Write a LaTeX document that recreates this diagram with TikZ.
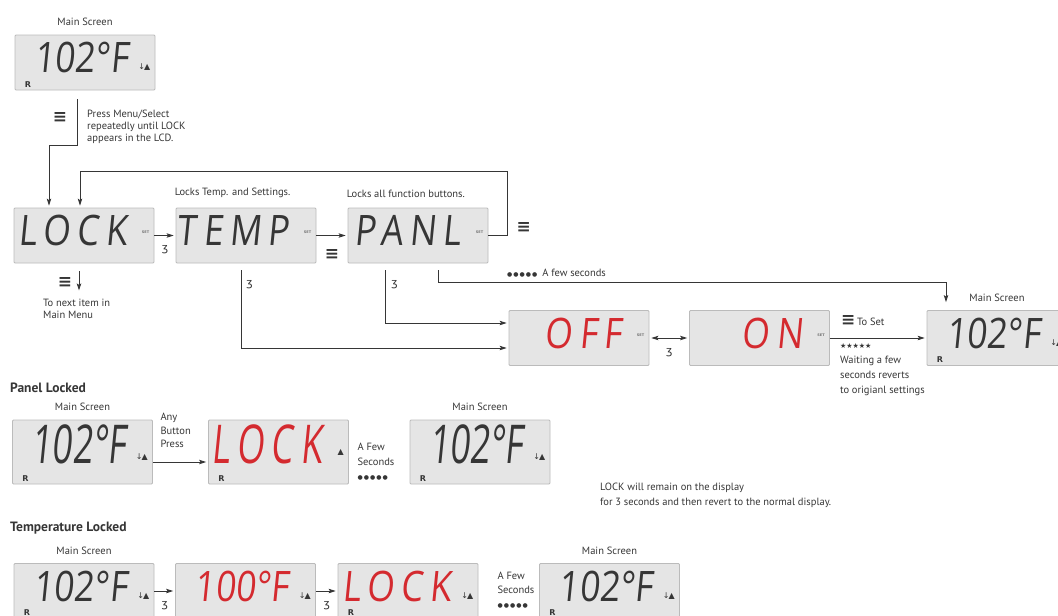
\documentclass[tikz,border=0pt]{standalone}
\usepackage{fontspec}
\setmainfont{PT Sans}
\newfontfamily\symfont{DejaVu Sans}
\newfontfamily\lcdfamily{Open Sans}[FakeSlant=0.1,FakeStretch=0.84]
\newfontfamily\lcdtallfamily{Open Sans}[FakeSlant=0.1,FakeStretch=0.66]
\newcommand\lcdnum{\lcdfamily\fontsize{42}{42}\selectfont}
\newcommand\lcdword{\lcdnum\addfontfeature{LetterSpace=16}}
\newcommand\lcdtallnum{\lcdtallfamily\fontsize{53.5}{54}\selectfont}
\newcommand\lcdtallword{\lcdtallnum\addfontfeature{LetterSpace=13}}
\usepackage{tikz}
\usetikzlibrary{arrows.meta,positioning}
\definecolor{ink}{HTML}{363636}
\definecolor{lcdfill}{HTML}{E5E5E5}
\definecolor{lcdedge}{HTML}{BBBBBB}
\definecolor{lcdred}{HTML}{D42A2F}

\begin{document}
\begin{tikzpicture}[x=1pt,y=-1pt,>={Stealth[length=7pt,width=4.5pt,inset=1.5pt]},shorten >=2pt,
  every node/.style={text=ink},
  wire/.style={draw=ink,line width=0.9pt},
  lcd/.style={draw=lcdedge,fill=lcdfill,line width=0.8pt,rounded corners=1pt,
    minimum width=140pt,minimum height=55pt,inner sep=0pt},
  tall/.style={minimum height=64pt},
  lcdtxt/.style={anchor=base east,inner sep=0pt,xshift=-27pt,yshift=-10pt,font=\lcdnum},
  num/.style={label={[lcdtxt]east:#1}},
  word/.style={label={[lcdtxt,font=\lcdword]east:#1}},
  rednum/.style={label={[lcdtxt,text=lcdred]east:#1}},
  redword/.style={label={[lcdtxt,font=\lcdword,text=lcdred]east:#1}},
  tallnum/.style={label={[lcdtxt,yshift=-1pt,font=\lcdtallnum]east:#1}},
  tallredword/.style={label={[lcdtxt,yshift=-1pt,font=\lcdtallword,text=lcdred]east:#1}},
  rtag/.style={anchor=south west,inner sep=0pt,xshift=10pt,yshift=3pt,
    font=\symfont\bfseries\fontsize{8}{8}\selectfont},
  rmark/.style={label={[rtag]south west:R}},
  icon/.style={anchor=east,inner sep=0pt,xshift=-5pt,yshift=-5pt,
    font=\symfont\fontsize{8}{8}\selectfont},
  updown/.style={label={[icon]east:↓\kern-1pt▲}},
  upmark/.style={label={[icon,yshift=5pt]east:▲}},
  settag/.style={anchor=east,inner sep=0pt,xshift=-5pt,yshift=3pt,text=ink!70,
    font=\symfont\bfseries\fontsize{3.5}{3.5}\selectfont},
  setmark/.style={label={[settag]east:SET}},
  screenlbl/.style={yshift=5pt,font=\fontsize{10.5}{12}\selectfont},
  screen/.style={label={[screenlbl]above:Main Screen}},
  note/.style={font=\fontsize{10.5}{12}\selectfont,align=left,inner sep=0pt},
  head/.style={font=\bfseries\fontsize{13.5}{15}\selectfont,inner sep=0pt},
  menu/.style={font=\symfont\bfseries\fontsize{17}{17}\selectfont,inner sep=0pt},
  knob/.style={font=\symfont\fontsize{11}{11}\selectfont,inner sep=0pt}]
  \useasboundingbox (0,0) rectangle (1058,616);
  \clip (0,0) rectangle (1058,616);

  % displays, top part
  \node[lcd,num=102°F,rmark,updown,screen] (main) at (85,62.5) {};
  \node[lcd,word=LOCK,setmark]  (lock) at (84,235.5) {};
  \node[lcd,word=TEMP,setmark]  (temp) at (246,235.5) {};
  \node[lcd,word=PANL,setmark]  (panl) at (418,235.5) {};
  \node[lcd,redword=OFF,setmark] (off) at (579,338) {};
  \node[lcd,redword=ON,setmark]  (on)  at (759.5,338) {};
  \node[lcd,num=102°F,rmark,updown,screen] (done) at (997,338) {};

  % menu into LOCK
  \node[menu] (m1) at ([xshift=-25pt,yshift=-27pt]main.south) {≡};
  \node[note,anchor=north west] (press) at ([xshift=2pt,yshift=-19pt]main.south)
    {Press Menu/Select\\repeatedly until LOCK\\appears in the LCD.};
  \draw[wire,->] ([xshift=-8pt,yshift=-9pt]main.south) -- ++(0,46) -| ([xshift=-35pt]lock.north);
  \draw[wire,->] (panl.east) -- ++(19,0) -- ++(0,-64) -| ([xshift=-4pt]lock.north);
  \node[menu,right=28pt of panl.east,yshift=8pt] (m3) {≡};

  \node[note,above right=10pt and -1pt of temp.north west] (templbl) {Locks Temp. and Settings.};
  \node[note,above right=10pt and -1pt of panl.north west] (panllbl) {Locks all function buttons.};

  \draw[wire,->] (lock) -- (temp) node[knob,midway,below=10pt] (k1) {ʒ};
  \draw[wire,->] (temp) -- (panl) node[menu,midway,below=14pt] (m2) {≡};

  % next item
  \node[menu] (m4) at ([xshift=-19pt,yshift=-19pt]lock.south) {≡};
  \draw[wire,->] ([xshift=-5pt,yshift=-8pt]lock.south) -- ([xshift=-5pt,yshift=-29pt]lock.south);
  \node[note,anchor=north west] (nextitem) at ([xshift=-41pt,yshift=-35pt]lock.south)
    {To next item in\\Main Menu};

  % into OFF / ON
  \draw[wire,->] ([xshift=-5pt,yshift=-7pt]temp.south) |- ([yshift=-10pt]off.west)
    node[knob,pos=0.09,right=5pt] (k2) {ʒ};
  \draw[wire,->] ([xshift=-33pt,yshift=-7pt]panl.south) |- ([yshift=15pt]off.west)
    node[knob,pos=0.14,right=6pt] (k3) {ʒ};
  \draw[wire,->,shorten >=8pt] ([xshift=20pt,yshift=-7pt]panl.south) -- ++(0,12) -| ([xshift=-51pt]done.north);
  \node[note,anchor=west] (few) at ([xshift=89pt,yshift=-10pt]panl.south)
    {{\symfont\fontsize{6}{6}\selectfont ●\,●\,●\,●\,●}\hspace{5pt}A few seconds};

  \draw[wire,<->,shorten <=2pt] (off) -- (on) node[knob,midway,below=10pt] (k4) {ʒ};
  \draw[wire,->] (on) -- (done);
  \node[note,anchor=south west] (toset) at ([xshift=11pt,yshift=12.5pt]on.east)
    {{\symfont\bfseries\fontsize{17}{17}\selectfont ≡}\,To Set};
  \node[note,below right=5pt and 10pt of on.east,font=\fontsize{10.5}{15}\selectfont] (wait)
    {{\symfont\fontsize{7}{15}\selectfont ★★★★★}\\Waiting a few\\seconds reverts\\to origianl settings};

  % panel locked
  \node[head,anchor=west] (panelhead) at (10,388) {Panel Locked};
  \node[lcd,tall,tallnum=102°F,rmark,updown,screen] (pmain) at (82.5,452) {};
  \node[lcd,tall,tallredword=LOCK,rmark,upmark] (plock) at (278.5,452) {};
  \node[lcd,tall,tallnum=102°F,rmark,updown,screen] (pback) at (480,452) {};
  \draw[wire,->] ([yshift=-10pt]pmain.east) -- ([yshift=-10pt]plock.west);
  \node[note,anchor=north west,font=\fontsize{10.5}{13.5}\selectfont] (anykey)
    at ([xshift=7.5pt,yshift=39pt]pmain.east) {Any\\Button\\Press};
  \node[note,anchor=north west,font=\fontsize{10.5}{14.5}\selectfont] (pfew)
    at ([xshift=8.5pt,yshift=9pt]plock.east)
    {A Few\\Seconds\\{\symfont\fontsize{6}{6}\selectfont ●\,●\,●\,●\,●}};
  \node[note,anchor=north west,font=\fontsize{10.5}{15}\selectfont] (remain) at (600,483)
    {LOCK will remain on the display\\for 3 seconds and then revert to the normal display.};

  % temperature locked
  \node[head,anchor=west] (temphead) at (10,528) {Temperature Locked};
  \node[lcd,num=102°F,rmark,updown,screen] (tmain) at (84,591) {};
  \node[lcd,rednum=100°F,updown] (tset) at (245.5,591) {};
  \node[lcd,redword=LOCK,rmark,updown] (tlock) at (408,591) {};
  \node[lcd,num=102°F,rmark,updown,screen] (tback) at (609.5,591) {};
  \draw[wire,->] (tmain) -- (tset) node[knob,midway,below=10pt] (k5) {ʒ};
  \draw[wire,->] (tset) -- (tlock) node[knob,midway,below=10pt] (k6) {ʒ};
  \node[note,anchor=north west,font=\fontsize{10.5}{14}\selectfont] (tfew)
    at ([xshift=19pt,yshift=-9pt]tlock.north east)
    {A Few\\Seconds\\{\symfont\fontsize{6}{6}\selectfont ●\,●\,●\,●\,●}};
\end{tikzpicture}
\end{document}
